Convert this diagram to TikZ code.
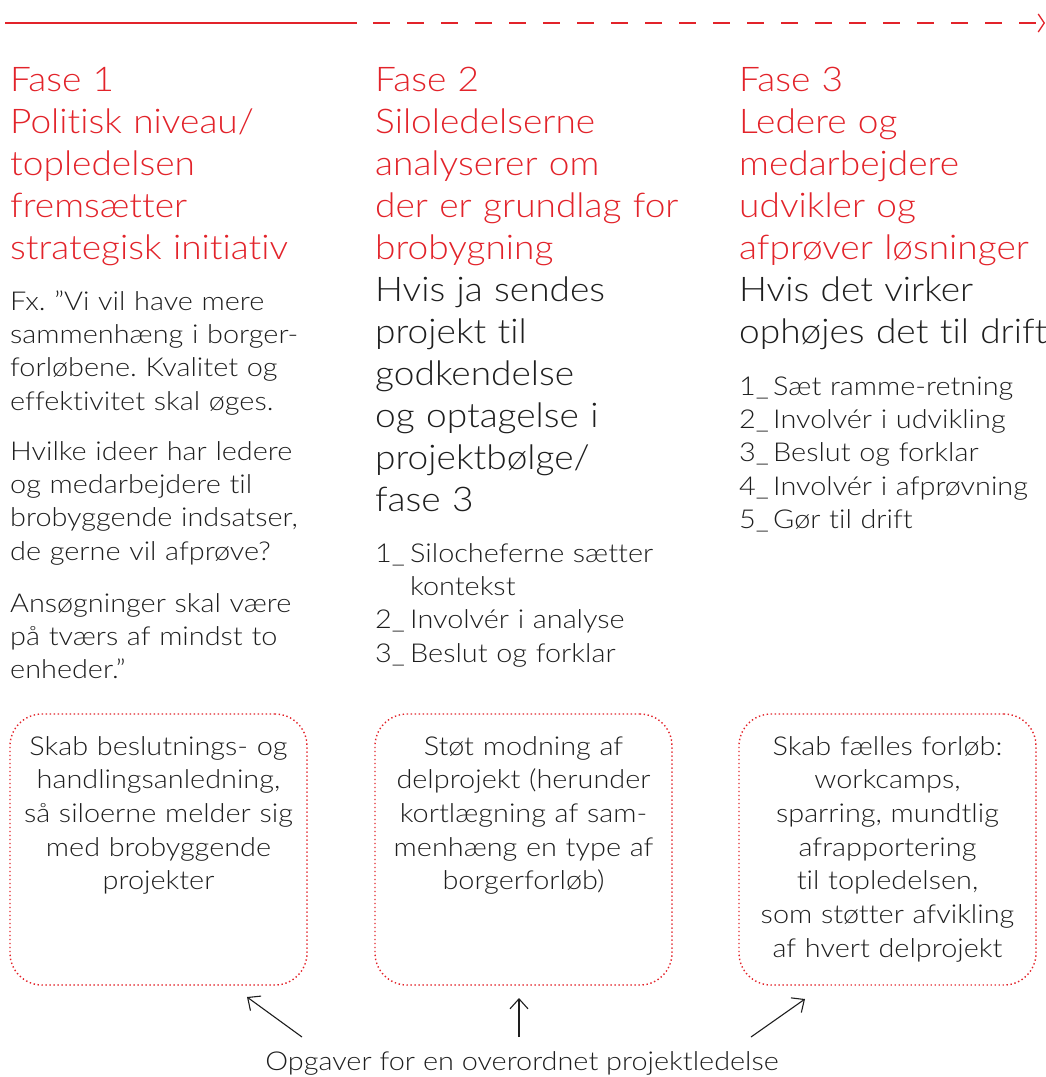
\documentclass[tikz,border=0pt]{standalone}
\usepackage{fontspec}
\setmainfont{Lato}[UprightFont=* Light, FakeStretch=1.11, Ligatures=NoCommon]
\newfontfamily\headfont{Lato}[UprightFont=* Light, FakeStretch=1.09, Ligatures=NoCommon]
\usetikzlibrary{arrows.meta}
\definecolor{myred}{RGB}{226,35,42}
\definecolor{myblack}{RGB}{30,30,30}
\begin{document}
\frenchspacing
\begin{tikzpicture}[x=1bp,y=-1bp,
  head/.style={anchor=base west, inner sep=0, text width=340bp, align=left,
    font=\headfont\fontsize{34bp}{42bp}\selectfont, text=myred},
  body/.style={anchor=base west, inner sep=0, text width=340bp, align=left,
    font=\fontsize{26bp}{33.4bp}\selectfont, text=myblack},
  boxtext/.style={anchor=base, inner sep=0, text width=300bp, align=center,
    font=\fontsize{26bp}{33.7bp}\selectfont, text=myblack},
  dotbox/.style={draw=myred, line width=1.4bp, dash pattern=on 1.4bp off 2.6bp,
    rounded corners=32bp, minimum width=297bp, minimum height=271bp, inner sep=0},
  arr/.style={draw=myblack, line width=1.1bp, -{Straight Barb[length=10bp,width=18bp]}},
  tl/.style={draw=myred, line width=1.3bp}
]
\useasboundingbox (0,0) rectangle (1046,1077);
% timeline
\coordinate (t0) at (5,23);
\coordinate (t1) at (357,23);
\coordinate (t2) at (1045,23);
\draw[tl] (t0) -- (t1);
\draw[tl, dash pattern=on 17bp off 17bp, dash phase=-16bp,
  -{Straight Barb[length=6bp,width=18bp]}] (t1) -- (t2);

% column 1
\node[head] (h1) at (10,91) {Fase 1\\Politisk niveau/\\topledelsen\\fremsætter\\strategisk initiativ};
\node[body] (p1) at (10,310) {Fx. ”Vi vil have mere\\sammenhæng i borger-\\forløbene. Kvalitet og\\effektivitet skal øges.};
\node[body] (p2) at (10,460) {Hvilke ideer har ledere\\og medarbejdere til\\brobyggende indsatser,\\de gerne vil afprøve?};
\node[body] (p3) at (10,612) {Ansøgninger skal være\\på tværs af mindst to\\enheder.”};

% column 2
\node[head] (h2) at (375,91) {Fase 2\\Siloledelserne\\analyserer om\\der er grundlag for\\brobygning\\\color{myblack}Hvis ja sendes\\projekt til\\godkendelse\\og optagelse i\\projektbølge/\\fase 3};
\node[body] (l2) at (375,562) {\makebox[35bp][l]{1\_}Silocheferne sætter\\\hspace*{35bp}kontekst\\\makebox[35bp][l]{2\_}Involvér i analyse\\\makebox[35bp][l]{3\_}Beslut og forklar};

% column 3
\node[head] (h3) at (739,91) {Fase 3\\Ledere og\\medarbejdere\\udvikler og\\afprøver løsninger\\\color{myblack}Hvis det virker\\ophøjes det til drift};
\node[body] (l3) at (739,395) {\makebox[34bp][l]{1\_}Sæt ramme-retning\\\makebox[34bp][l]{2\_}Involvér i udvikling\\\makebox[34bp][l]{3\_}Beslut og forklar\\\makebox[34bp][l]{4\_}Involvér i afprøvning\\\makebox[34bp][l]{5\_}Gør til drift};

% boxes
\node[dotbox] (b1) at (158.5,849.5) {};
\node[dotbox] (b2) at (523.5,849.5) {};
\node[dotbox] (b3) at (887.5,849.5) {};
\node[boxtext] (bt1) at (158.5,755) {Skab beslutnings- og\\handlingsanledning,\\så siloerne melder sig\\med brobyggende\\projekter};
\node[boxtext] (bt2) at (523.5,755) {Støt modning af\\delprojekt (herunder\\kortlægning af sam-\\menhæng en type af\\borgerforløb)};
\node[boxtext] (bt3) at (887.5,755) {Skab fælles forløb:\\workcamps,\\sparring, mundtlig\\afrapportering\\til topledelsen,\\som støtter afvikling\\af hvert delprojekt};

% bottom label and arrows
\node[anchor=base, inner sep=0, font=\fontsize{26bp}{30bp}\selectfont, text=myblack] (lab) at (522,1070) {Opgaver for en overordnet projektledelse};
\coordinate (s1) at (302,1037);
\coordinate (e1) at (247,997);
\coordinate (s2) at (519,1037);
\coordinate (e2) at (519,998);
\coordinate (s3) at (751,1037);
\coordinate (e3) at (805,999);
\draw[arr] (s1) -- (e1);
\draw[arr] (s2) -- (e2);
\draw[arr] (s3) -- (e3);
\end{tikzpicture}
\end{document}
